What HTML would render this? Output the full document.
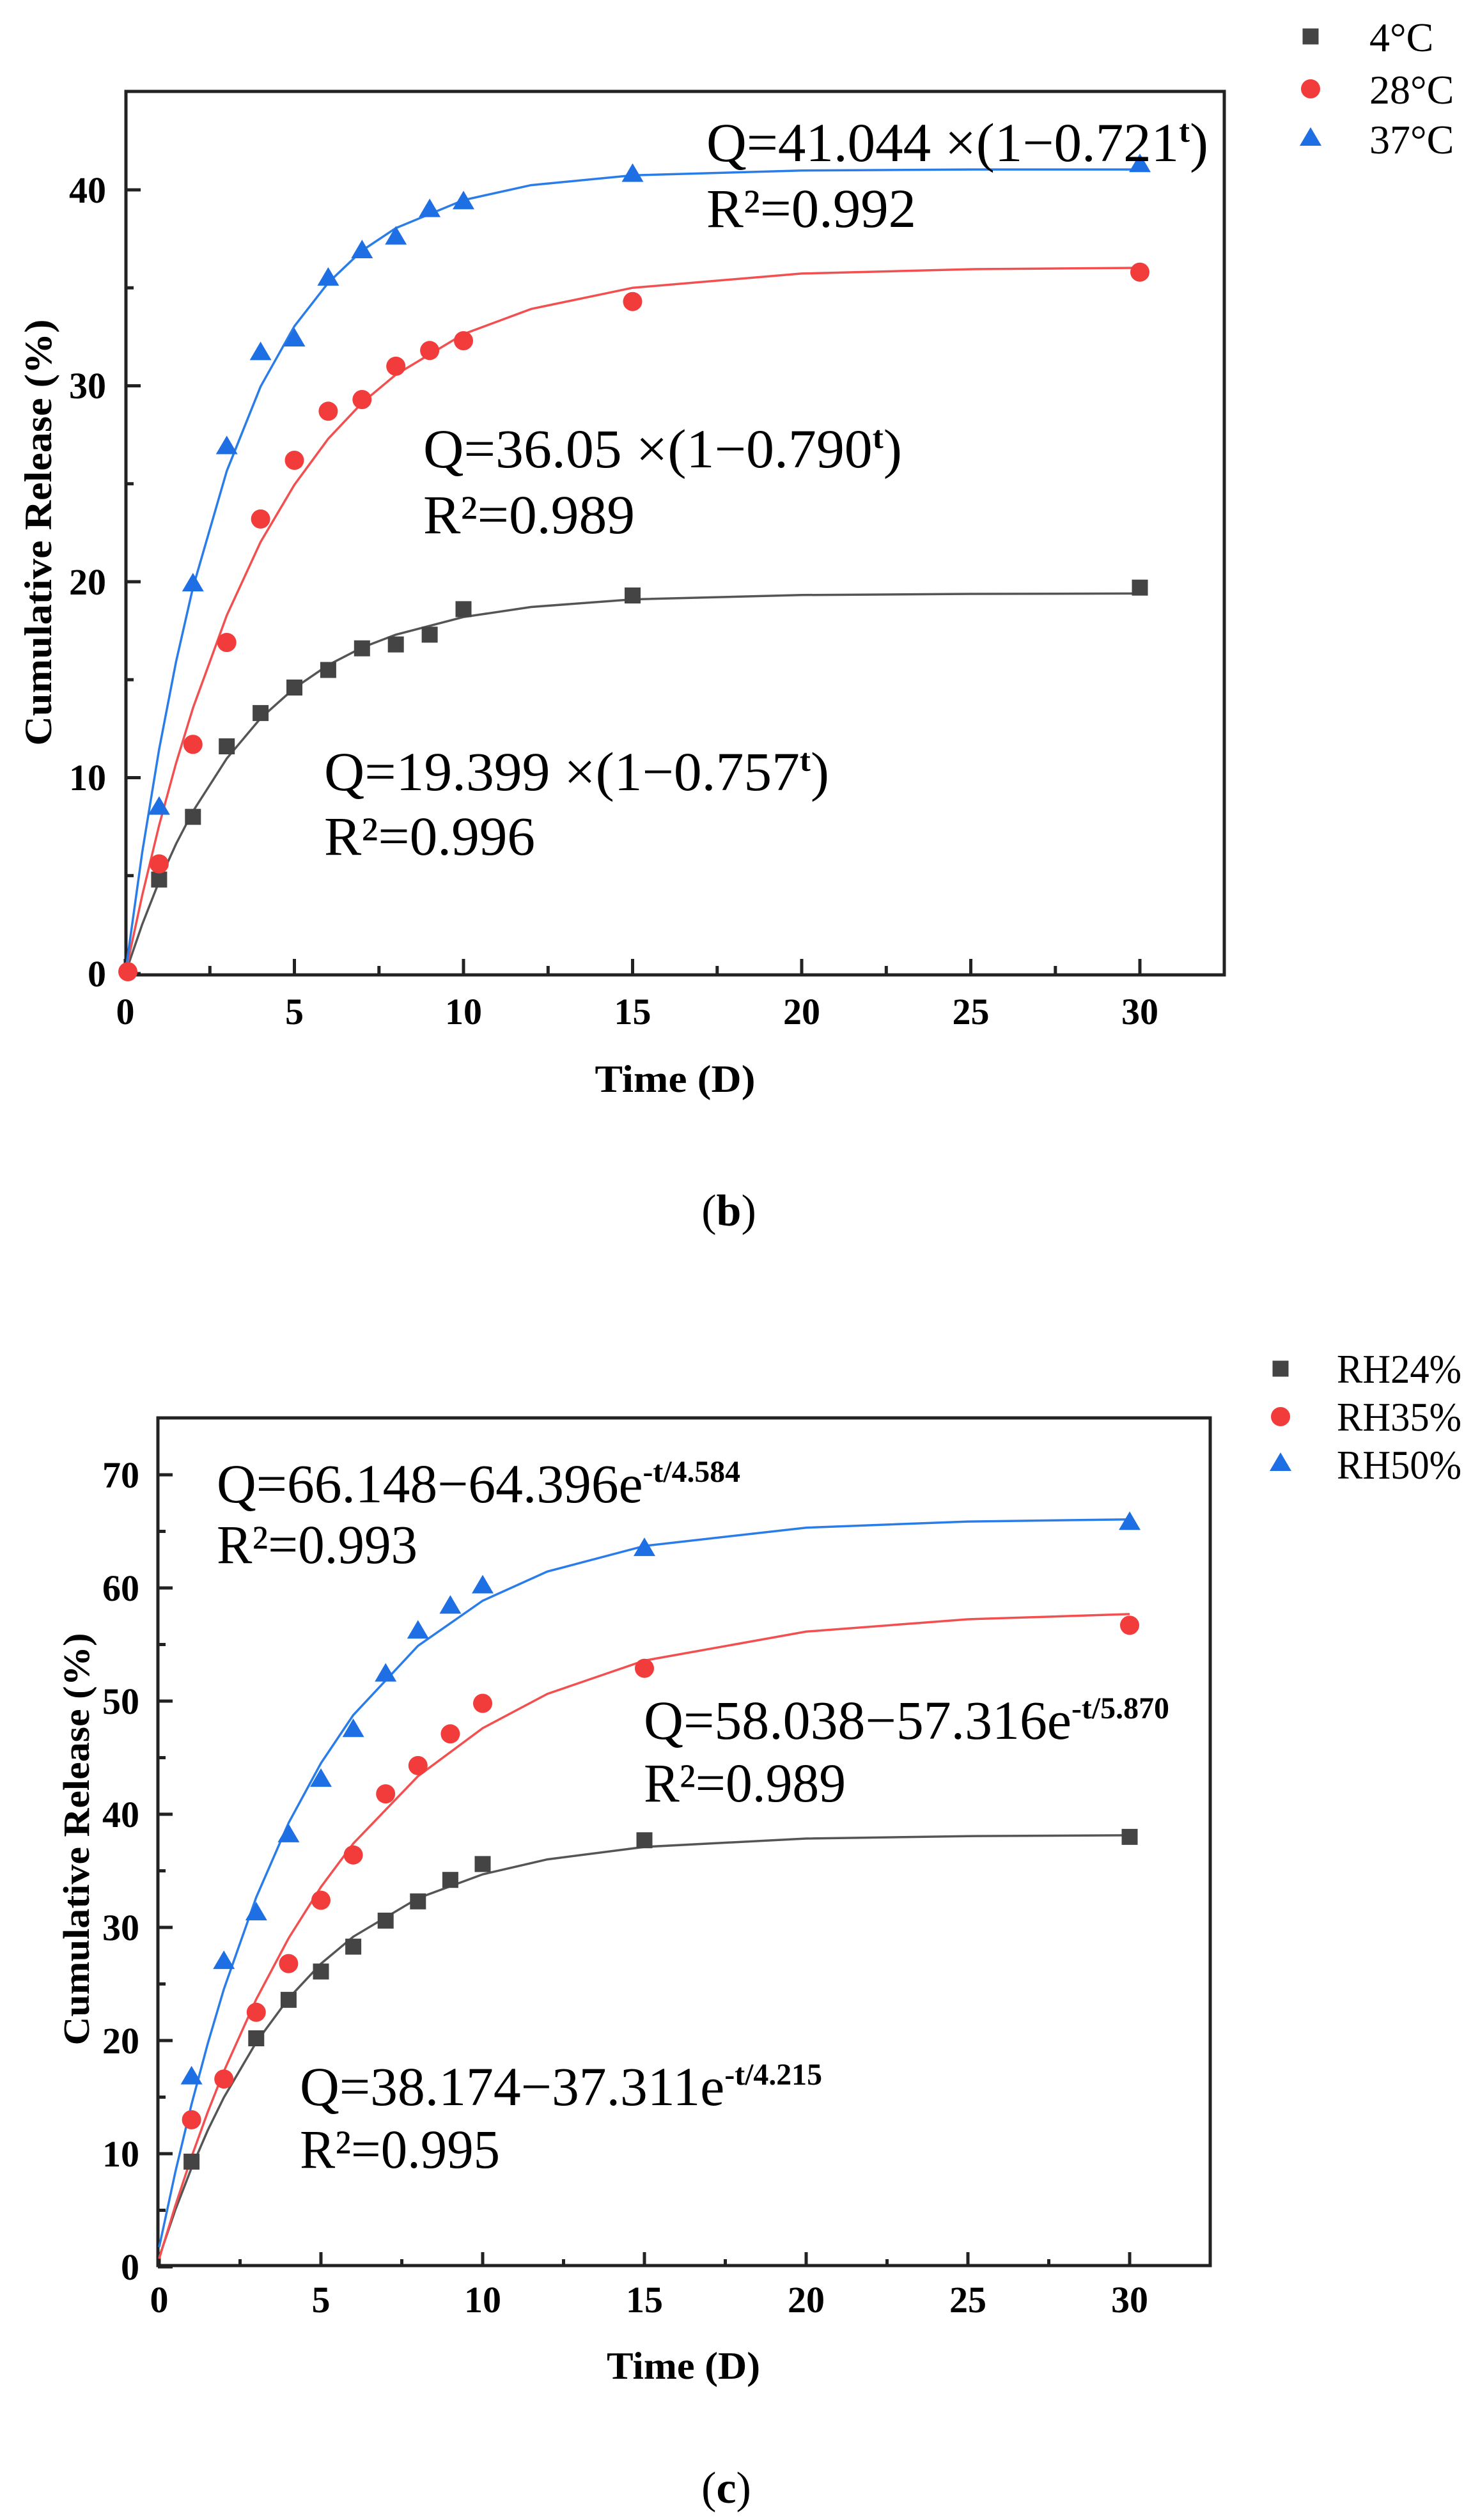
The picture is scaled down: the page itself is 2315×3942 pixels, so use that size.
<!DOCTYPE html>
<html><head><meta charset="utf-8"><style>
html,body{margin:0;padding:0;background:#fff}
svg{display:block}
text{font-family:"Liberation Serif","DejaVu Serif",serif}
.tk{font-weight:bold;font-size:58px}
.eq{font-size:86px}
.lg{font-size:64px}
</style></head><body>
<svg width="2315" height="3942" viewBox="0 0 2315 3942" xmlns="http://www.w3.org/2000/svg">
<rect width="2315" height="3942" fill="#fff"/>
<defs>
<rect id="sq" x="-12.5" y="-12.5" width="25" height="25" fill="#444"/>
<circle id="ci" r="15" fill="#f23c3c"/>
<polygon id="tr" points="0,-17 17,12 -17,12" fill="#1e6fe3"/>
</defs>

<!-- ================= Chart (b) ================= -->
<g stroke="#222" stroke-width="5" fill="none">
<rect x="197" y="143" width="1718" height="1382"/>
<path d="M196,1523v-23M460.5,1523v-23M725,1523v-23M989.5,1523v-23M1254,1523v-23M1518.5,1523v-23M1783,1523v-23
M328.3,1523v-12M592.8,1523v-12M857.3,1523v-12M1121.8,1523v-12M1386.3,1523v-12M1650.8,1523v-12
M197,1523h23M197,1216.5h23M197,910h23M197,603.5h23M197,297h23
M197,1369.8h12M197,1063.3h12M197,756.8h12M197,450.3h12"/>
</g>
<g class="tk" text-anchor="middle">
<text x="196" y="1602">0</text><text x="460.5" y="1602">5</text><text x="725" y="1602">10</text>
<text x="989.5" y="1602">15</text><text x="1254" y="1602">20</text><text x="1518.5" y="1602">25</text><text x="1783" y="1602">30</text>
</g>
<g class="tk" text-anchor="end">
<text x="166" y="1543">0</text><text x="166" y="1236">10</text><text x="166" y="930">20</text>
<text x="166" y="623">30</text><text x="166" y="317">40</text>
</g>
<text x="1056" y="1708" text-anchor="middle" font-weight="bold" font-size="60" textLength="251" lengthAdjust="spacingAndGlyphs">Time (D)</text>
<text transform="translate(80,833) rotate(-90)" text-anchor="middle" font-weight="bold" font-size="60" textLength="667" lengthAdjust="spacingAndGlyphs">Cumulative Release (%)</text>

<g fill="none" stroke-width="3.5">
<polyline stroke="#555" points="196,1523 222.5,1445.8 248.9,1378.6 275.4,1320.1 301.8,1269.2 354.7,1186.5 407.6,1123.6 460.5,1076.4 513.4,1040.3 566.3,1013 619.2,992.8 725,965.2 830.8,949.5 989.5,937.6 1254,930.8 1518.5,929 1783,928.4"/>
<polyline stroke="#f25050" points="196,1523 222.5,1400.4 248.9,1291 275.4,1193.8 301.8,1107.7 354.7,962.7 407.6,847.8 460.5,758.3 513.4,686.4 566.3,630.2 619.2,586 725,522.6 830.8,483.3 989.5,450.2 1254,427.9 1518.5,421.1 1783,419"/>
<polyline stroke="#2a7de8" points="196,1523 222.5,1333 248.9,1172.1 275.4,1035.1 301.8,919.2 354.7,736.8 407.6,604.7 460.5,510.3 513.4,442.3 566.3,392 619.2,356.8 725,313 830.8,289.6 989.5,274.3 1254,266.7 1518.5,265.1 1783,265.1"/>
</g>
<g>
<use href="#sq" x="248.9" y="1375.9"/><use href="#sq" x="301.8" y="1277.8"/><use href="#sq" x="354.7" y="1167.5"/>
<use href="#sq" x="407.6" y="1115.4"/><use href="#sq" x="460.5" y="1075.5"/><use href="#sq" x="513.4" y="1048"/>
<use href="#sq" x="566.3" y="1014.2"/><use href="#sq" x="619.2" y="1008.1"/><use href="#sq" x="672.1" y="992.8"/>
<use href="#sq" x="725" y="952.9"/><use href="#sq" x="989.5" y="931.5"/><use href="#sq" x="1783" y="919.2"/>
<use href="#ci" x="200" y="1520"/>
<use href="#ci" x="248.9" y="1351.4"/><use href="#ci" x="301.8" y="1164.4"/><use href="#ci" x="354.7" y="1005"/>
<use href="#ci" x="407.6" y="811.9"/><use href="#ci" x="460.5" y="720"/><use href="#ci" x="513.4" y="643.3"/>
<use href="#ci" x="566.3" y="625"/><use href="#ci" x="619.2" y="572.9"/><use href="#ci" x="672.1" y="548.3"/>
<use href="#ci" x="725" y="533"/><use href="#ci" x="989.5" y="471.7"/><use href="#ci" x="1783" y="425.7"/>
<use href="#tr" x="248.9" y="1262.5"/><use href="#tr" x="301.8" y="913.1"/><use href="#tr" x="354.7" y="698.5"/>
<use href="#tr" x="407.6" y="551.4"/><use href="#tr" x="460.5" y="530"/><use href="#tr" x="513.4" y="434.9"/>
<use href="#tr" x="566.3" y="392"/><use href="#tr" x="619.2" y="370.6"/><use href="#tr" x="672.1" y="327.6"/>
<use href="#tr" x="725" y="315.4"/><use href="#tr" x="989.5" y="272.5"/><use href="#tr" x="1783" y="257.2"/>
</g>
<g class="eq">
<text x="1105" y="252" textLength="785" lengthAdjust="spacingAndGlyphs">Q=41.044 ×(1−0.721<tspan dy="-30" font-size="50" font-weight="bold">t</tspan><tspan dy="30">)</tspan></text>
<text x="1105" y="355" textLength="328" lengthAdjust="spacingAndGlyphs">R²=0.992</text>
<text x="662" y="731" textLength="749" lengthAdjust="spacingAndGlyphs">Q=36.05 ×(1−0.790<tspan dy="-30" font-size="50" font-weight="bold">t</tspan><tspan dy="30">)</tspan></text>
<text x="662" y="834" textLength="331" lengthAdjust="spacingAndGlyphs">R²=0.989</text>
<text x="507" y="1236" textLength="790" lengthAdjust="spacingAndGlyphs">Q=19.399 ×(1−0.757<tspan dy="-30" font-size="50" font-weight="bold">t</tspan><tspan dy="30">)</tspan></text>
<text x="507" y="1337" textLength="330" lengthAdjust="spacingAndGlyphs">R²=0.996</text>
</g>
<use href="#sq" x="2050" y="57"/><use href="#ci" x="2050" y="139"/><use href="#tr" x="2050" y="216"/>
<g class="lg">
<text x="2142" y="80">4°C</text><text x="2142" y="162">28°C</text><text x="2142" y="240">37°C</text>
</g>
<text x="1140" y="1917" text-anchor="middle" font-size="70">(<tspan font-weight="bold">b</tspan>)</text>

<!-- ================= Chart (c) ================= -->
<g stroke="#222" stroke-width="5" fill="none">
<rect x="247" y="2218" width="1646" height="1326"/>
<path d="M249,3546v-23M502,3546v-23M755,3546v-23M1008,3546v-23M1261,3546v-23M1514,3546v-23M1767,3546v-23
M375.5,3546v-12M628.5,3546v-12M881.5,3546v-12M1134.5,3546v-12M1387.5,3546v-12M1640.5,3546v-12
M247,3546h23M247,3369h23M247,3192h23M247,3015h23M247,2838h23M247,2661h23M247,2484h23M247,2307h23
M247,3457.5h12M247,3280.5h12M247,3103.5h12M247,2926.5h12M247,2749.5h12M247,2572.5h12M247,2395.5h12"/>
</g>
<g class="tk" text-anchor="middle">
<text x="249" y="3617">0</text><text x="502" y="3617">5</text><text x="755" y="3617">10</text>
<text x="1008" y="3617">15</text><text x="1261" y="3617">20</text><text x="1514" y="3617">25</text><text x="1767" y="3617">30</text>
</g>
<g class="tk" text-anchor="end">
<text x="218" y="3566">0</text><text x="218" y="3389">10</text><text x="218" y="3212">20</text><text x="218" y="3035">30</text>
<text x="218" y="2858">40</text><text x="218" y="2681">50</text><text x="218" y="2504">60</text><text x="218" y="2327">70</text>
</g>
<text x="1069" y="3721" text-anchor="middle" font-weight="bold" font-size="60" textLength="240" lengthAdjust="spacingAndGlyphs">Time (D)</text>
<text transform="translate(139,2877) rotate(-90)" text-anchor="middle" font-weight="bold" font-size="58" textLength="645" lengthAdjust="spacingAndGlyphs">Cumulative Release (%)</text>

<g fill="none" stroke-width="3.5">
<polyline stroke="#555" points="249,3530.8 274.3,3456.8 299.6,3391.3 324.9,3332.5 350.2,3281 400.8,3194.7 451.4,3126 502,3071.8 552.6,3029.5 653.8,2969.3 755,2932 856.2,2908.6 1008,2889.1 1261,2876 1514,2872.2 1767,2870.9"/>
<polyline stroke="#f25050" points="249,3533.3 274.3,3450.1 299.6,3374 324.9,3304 350.2,3240 400.8,3127.4 451.4,3032 502,2951.8 552.6,2883.8 653.8,2778.5 755,2703.3 856.2,2649.7 1008,2597.6 1261,2552.3 1514,2533 1767,2524.9"/>
<polyline stroke="#2a7de8" points="249,3515 274.3,3397.5 299.6,3291.7 324.9,3197 350.2,3111.5 400.8,2967.9 451.4,2851.6 502,2758.2 552.6,2682.9 653.8,2574.6 755,2504 856.2,2458.3 1008,2418.3 1261,2389.7 1514,2380.1 1767,2376.7"/>
</g>
<g>
<use href="#sq" x="299.6" y="3381.4"/><use href="#sq" x="400.8" y="3188.5"/><use href="#sq" x="451.4" y="3128.3"/>
<use href="#sq" x="502" y="3084"/><use href="#sq" x="552.6" y="3045.1"/><use href="#sq" x="603.2" y="3004.4"/>
<use href="#sq" x="653.8" y="2974.3"/><use href="#sq" x="704.4" y="2940.7"/><use href="#sq" x="755" y="2915.9"/>
<use href="#sq" x="1008" y="2878.7"/><use href="#sq" x="1767" y="2873.4"/>
<use href="#ci" x="299.6" y="3315.9"/><use href="#ci" x="350.2" y="3252.2"/><use href="#ci" x="400.8" y="3147.8"/>
<use href="#ci" x="451.4" y="3071.6"/><use href="#ci" x="502" y="2972.5"/><use href="#ci" x="552.6" y="2901.7"/>
<use href="#ci" x="603.2" y="2806.1"/><use href="#ci" x="653.8" y="2761.9"/><use href="#ci" x="704.4" y="2712.3"/>
<use href="#ci" x="755" y="2664.5"/><use href="#ci" x="1008" y="2609.7"/><use href="#ci" x="1767" y="2542.4"/>
<use href="#tr" x="299.6" y="3248.6"/><use href="#tr" x="350.2" y="3068.1"/><use href="#tr" x="400.8" y="2992"/>
<use href="#tr" x="451.4" y="2869.9"/><use href="#tr" x="502" y="2783.1"/><use href="#tr" x="552.6" y="2705.3"/>
<use href="#tr" x="603.2" y="2618.5"/><use href="#tr" x="653.8" y="2551.3"/><use href="#tr" x="704.4" y="2512.3"/>
<use href="#tr" x="755" y="2480.5"/><use href="#tr" x="1008" y="2422.1"/><use href="#tr" x="1767" y="2381.3"/>
</g>
<g class="eq">
<text x="339" y="2350" textLength="819" lengthAdjust="spacingAndGlyphs">Q=66.148−64.396e<tspan dy="-32" font-size="48" font-weight="bold">-t/4.584</tspan></text>
<text x="339" y="2445" textLength="314" lengthAdjust="spacingAndGlyphs">R²=0.993</text>
<text x="1007" y="2720" textLength="822" lengthAdjust="spacingAndGlyphs">Q=58.038−57.316e<tspan dy="-32" font-size="48" font-weight="bold">-t/5.870</tspan></text>
<text x="1007" y="2818" textLength="316" lengthAdjust="spacingAndGlyphs">R²=0.989</text>
<text x="469" y="3293" textLength="817" lengthAdjust="spacingAndGlyphs">Q=38.174−37.311e<tspan dy="-32" font-size="48" font-weight="bold">-t/4.215</tspan></text>
<text x="469" y="3391" textLength="313" lengthAdjust="spacingAndGlyphs">R²=0.995</text>
</g>
<use href="#sq" x="2003" y="2141"/><use href="#ci" x="2003" y="2216"/><use href="#tr" x="2003" y="2289"/>
<g class="lg">
<text x="2091" y="2163" textLength="195" lengthAdjust="spacingAndGlyphs">RH24%</text>
<text x="2091" y="2238" textLength="195" lengthAdjust="spacingAndGlyphs">RH35%</text>
<text x="2091" y="2313" textLength="195" lengthAdjust="spacingAndGlyphs">RH50%</text>
</g>
<text x="1136" y="3915" text-anchor="middle" font-size="70">(<tspan font-weight="bold">c</tspan>)</text>
</svg>
</body></html>
